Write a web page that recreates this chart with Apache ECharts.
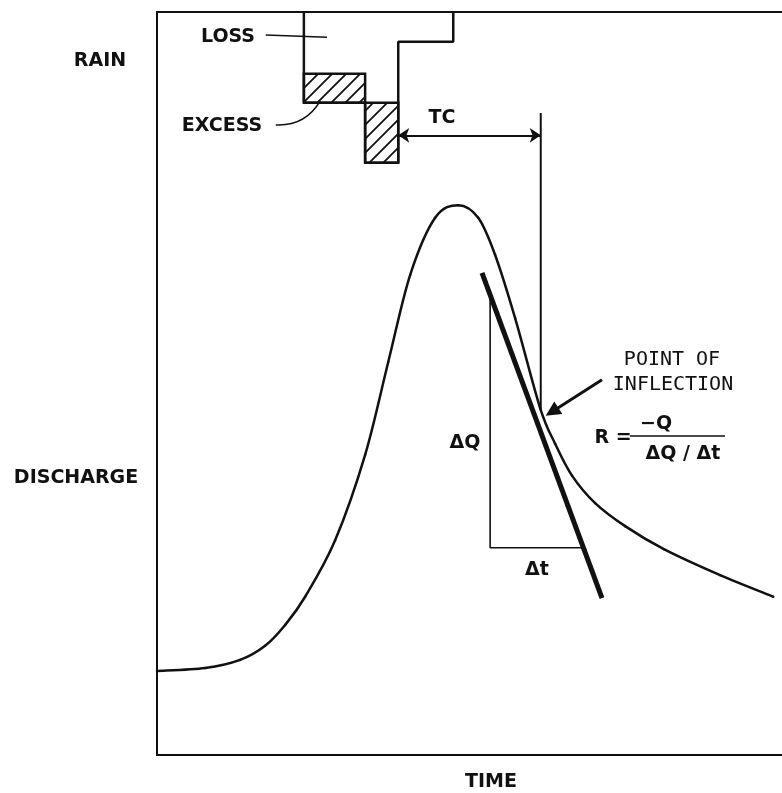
<!DOCTYPE html>
<html>
<head>
<meta charset="utf-8">
<script src="https://cdn.jsdelivr.net/npm/echarts@6/dist/echarts.min.js"></script>
<style>
  html, body { margin: 0; background: #fff; }
  #chart { width: 782px; height: 793px; }
</style>
</head>
<body>
<div id="chart"></div>
<script>
// time runs 0..100 across the frame; discharge 0..100 upward; rain depth 0..100 downward from the top
const hydroTime = [0, 7.7, 13.3, 17.3, 20.5, 23.7, 28.5, 33.3, 37.0, 40.5, 44.5, 48.2, 51.4, 54.1, 57.3, 61.3, 63.7, 66.4, 70.1, 74.9, 81.1, 90.1, 98.6];
const hydroFlow = [11.3, 11.7, 12.8, 14.7, 17.5, 21.3, 28.9, 40.4, 52.9, 64.6, 72.3, 74.0, 72.3, 67.3, 58.8, 46.7, 41.9, 37.6, 33.9, 30.8, 27.7, 24.2, 21.3];

// rain blocks: edges in time, loss and excess depth per block
const rainEdges = [23.5, 33.3, 38.6, 47.4];
const rainLoss = [8.3, 12.2, 4.0];
const rainExcess = [3.9, 8.1, 0];

// tangent at the inflection point and the dQ / dt triangle
const tangentTime = [52.0, 71.2];
const tangentFlow = [64.9, 21.1];
const deltaTime = [53.3, 53.3, 68.2];
const deltaFlow = [61.5, 27.9, 27.9];

// time of concentration marker
const tcTime = 61.4;
const tcFlow = [86.4, 46.4];
const tcArrowFlow = 83.4;

const ink = '#111';

// diagonal hatch for rainfall excess
const hatch = document.createElement('canvas');
hatch.width = 14;
hatch.height = 14;
const hc = hatch.getContext('2d');
hc.fillStyle = '#fff';
hc.fillRect(0, 0, 14, 14);
hc.strokeStyle = ink;
hc.lineWidth = 1.8;
hc.beginPath();
hc.moveTo(0, 14); hc.lineTo(14, 0);
hc.moveTo(-7, 7); hc.lineTo(7, -7);
hc.moveTo(7, 21); hc.lineTo(21, 7);
hc.stroke();

const hydroData = hydroTime.map((t, i) => [t, hydroFlow[i]]);
const tangentData = tangentTime.map((t, i) => [t, tangentFlow[i]]);
const deltaData = deltaTime.map((t, i) => [t, deltaFlow[i]]);
const rainData = rainLoss.map((l, i) => [rainEdges[i], rainEdges[i + 1], l, rainExcess[i]]);

// outer outline of the rain blocks
const rainOutline = [[rainEdges[0], 0]];
rainLoss.forEach((l, i) => {
    const d = l + rainExcess[i];
    rainOutline.push([rainEdges[i], d], [rainEdges[i + 1], d]);
});
rainOutline.push([rainEdges[rainEdges.length - 1], 0]);

const labelFont = { fontFamily: 'DejaVu Sans', fontWeight: 'bold', fontSize: 19, fill: ink };
const monoFont = { fontFamily: 'DejaVu Sans Mono', fontSize: 20, fill: ink };

function txt(text, x, y, font) {
    return {
        type: 'text', x: x, y: y,
        style: Object.assign({ text: text, align: 'center', verticalAlign: 'middle' }, font)
    };
}

// hydrograph drawn once as a Catmull-Rom chain through the axis-mapped points
function renderHydrograph(params, api) {
    if (params.dataIndex !== 0) return { type: 'group', children: [] };
    const pts = hydroData.map(d => api.coord(d));
    const segs = [];
    for (let i = 0; i < pts.length - 1; i++) {
        const p0 = pts[Math.max(i - 1, 0)], p1 = pts[i], p2 = pts[i + 1], p3 = pts[Math.min(i + 2, pts.length - 1)];
        segs.push({
            type: 'bezierCurve',
            shape: {
                x1: p1[0], y1: p1[1], x2: p2[0], y2: p2[1],
                cpx1: p1[0] + (p2[0] - p0[0]) / 6, cpy1: p1[1] + (p2[1] - p0[1]) / 6,
                cpx2: p2[0] - (p3[0] - p1[0]) / 6, cpy2: p2[1] - (p3[1] - p1[1]) / 6
            },
            style: { stroke: ink, lineWidth: 2.5, fill: null, lineCap: 'round' }
        });
    }
    return { type: 'group', children: segs };
}

const chart = echarts.init(document.getElementById('chart'));
const option = {
    animation: false,
    backgroundColor: '#fff',
    grid: { left: 157, top: 12, right: 0, bottom: 38 },
    xAxis: [
        {
            type: 'value', min: 0, max: 100, position: 'bottom',
            axisLine: { show: true, lineStyle: { color: ink, width: 2 } },
            axisTick: { show: false }, axisLabel: { show: false }, splitLine: { show: false }
        },
        {
            type: 'value', min: 0, max: 100, position: 'top',
            axisLine: { show: true, lineStyle: { color: ink, width: 2 } },
            axisTick: { show: false }, axisLabel: { show: false }, splitLine: { show: false }
        }
    ],
    yAxis: [
        {
            type: 'value', min: 0, max: 100, position: 'left',
            axisLine: { show: true, lineStyle: { color: ink, width: 2 } },
            axisTick: { show: false }, axisLabel: { show: false }, splitLine: { show: false }
        },
        {
            type: 'value', min: 0, max: 100, inverse: true, show: false
        }
    ],
    series: [
        {
            name: 'excess',
            type: 'custom',
            xAxisIndex: 0, yAxisIndex: 1,
            encode: { x: [0, 1], y: [2, 3] },
            data: rainData,
            renderItem: function (params, api) {
                const excess = api.value(3);
                if (!excess) return { type: 'group', children: [] };
                const a = api.coord([api.value(0), api.value(2)]);
                const b = api.coord([api.value(1), api.value(2) + excess]);
                return {
                    type: 'rect',
                    shape: { x: a[0], y: a[1], width: b[0] - a[0], height: b[1] - a[1] },
                    style: { fill: { image: hatch, repeat: 'repeat' }, stroke: ink, lineWidth: 2.5 }
                };
            }
        },
        {
            name: 'rain',
            type: 'line',
            xAxisIndex: 0, yAxisIndex: 1,
            data: rainOutline,
            symbol: 'none',
            lineStyle: { color: ink, width: 2.5 }
        },
        {
            name: 'hydrograph',
            type: 'custom',
            encode: { x: 0, y: 1 },
            data: hydroData,
            renderItem: renderHydrograph
        },
        {
            name: 'tangent',
            type: 'line',
            data: tangentData,
            symbol: 'none',
            lineStyle: { color: ink, width: 5 }
        },
        {
            name: 'delta',
            type: 'line',
            data: deltaData,
            symbol: 'none',
            lineStyle: { color: ink, width: 1.6 }
        },
        {
            name: 'tc',
            type: 'line',
            data: [[tcTime, tcFlow[0]], [tcTime, tcFlow[1]]],
            symbol: 'none',
            lineStyle: { color: ink, width: 2 }
        },
        {
            name: 'tc arrow',
            type: 'lines',
            coordinateSystem: 'cartesian2d',
            symbol: ['arrow', 'arrow'],
            symbolSize: 11,
            lineStyle: { color: ink, width: 2, opacity: 1 },
            data: [{ coords: [[rainEdges[2], tcArrowFlow], [tcTime, tcArrowFlow]] }]
        },
        {
            name: 'inflection arrow',
            type: 'lines',
            coordinateSystem: 'cartesian2d',
            symbol: ['none', 'triangle'],
            symbolSize: 15,
            lineStyle: { color: ink, width: 3, opacity: 1 },
            data: [{ coords: [[71.2, 50.5], [63.2, 46.2]] }]
        },
        {
            name: 'leaders',
            type: 'lines',
            coordinateSystem: 'cartesian2d',
            symbol: 'none',
            lineStyle: { color: ink, width: 1.6, opacity: 1 },
            data: [
                { coords: [[17.4, 96.9], [27.2, 96.6]] },
                { coords: [[19.0, 84.8], [26.1, 88.0]], lineStyle: { curveness: -0.3 } }
            ]
        }
    ],
    graphic: [
        txt('RAIN', 100, 61, labelFont),
        txt('DISCHARGE', 76, 478, labelFont),
        txt('TIME', 491, 782, labelFont),
        txt('LOSS', 228, 37, labelFont),
        txt('EXCESS', 222, 126, labelFont),
        txt('TC', 442, 118, labelFont),
        txt('ΔQ', 465, 443, labelFont),
        txt('Δt', 537, 570, labelFont),
        txt('POINT OF', 672, 360, monoFont),
        txt('INFLECTION', 673, 385, monoFont),
        txt('R =', 613, 438, labelFont),
        txt('−Q', 656, 424, labelFont),
        {
            type: 'line',
            shape: { x1: 630, y1: 436, x2: 725, y2: 436 },
            style: { stroke: ink, lineWidth: 1.6 }
        },
        txt('ΔQ / Δt', 683, 454, labelFont)
    ]
};
option && chart.setOption(option);
</script>
</body>
</html>
